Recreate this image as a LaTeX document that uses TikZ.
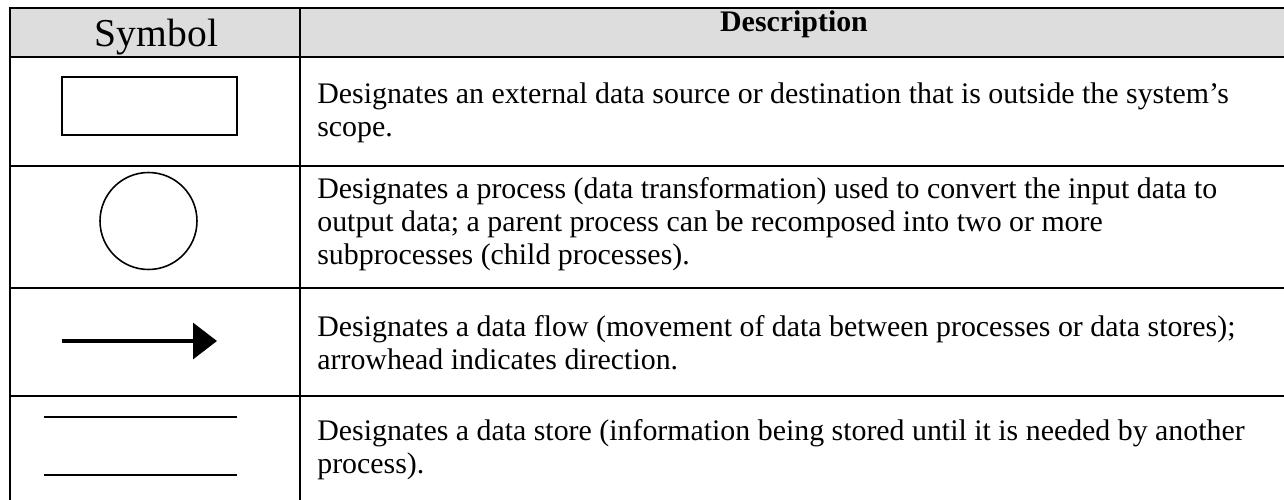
\documentclass[tikz,border=0pt]{standalone}
\usepackage{fontspec}
\setmainfont{Liberation Serif}
\usetikzlibrary{arrows.meta}
\definecolor{headgray}{RGB}{221,221,221}
\begin{document}
\begin{tikzpicture}[x=0.02cm, y=-0.02cm]

\tikzstyle{grid}=[line width=1.7pt]
\tikzstyle{desc}=[anchor=west, inner sep=0pt, align=left, font=\fontsize{17}{18.7}\selectfont]
\tikzstyle{entity}=[rectangle, draw, line width=1.1pt, minimum width=3.5cm, minimum height=1.16cm, inner sep=0pt]
\tikzstyle{process}=[circle, draw, line width=0.9pt, minimum size=1.94cm, inner sep=0pt]
\tikzstyle{flow}=[-{Triangle[length=0.48cm, width=0.72cm]}, line width=1.9pt]
\tikzstyle{store}=[line width=1.1pt]

\useasboundingbox (0,0) rectangle (1284,500);

% header row
\fill[headgray] (10,8) rectangle (1284,57);
\node (symhead) [anchor=base, inner sep=0pt, font=\fontsize{22.5}{26}\selectfont] at (156.5,47) {Symbol};
\node (deschead) [anchor=base, inner sep=0pt, font=\fontsize{17}{20}\selectfont\bfseries] at (794,32) {Description};

% table rules
\draw[grid] (10,500) -- (10,8) -- (1284,8);
\draw[grid] (300,8) -- (300,500);
\draw[grid] (10,57) -- (1284,57);
\draw[grid] (10,166) -- (1284,166);
\draw[grid] (10,288) -- (1284,288);
\draw[grid] (10,396) -- (1284,396);

% symbols
\node (ext) [entity] at (149.5,106) {};
\node (proc) [process] at (148.5,221) {};
\coordinate (flowA) at (62,341);
\coordinate (flowB) at (217,341);
\draw[flow] (flowA) -- (flowB);
\coordinate (storeA) at (44,417);
\coordinate (storeB) at (237,417);
\coordinate (storeC) at (44,475);
\coordinate (storeD) at (237,475);
\draw[store] (storeA) -- (storeB);
\draw[store] (storeC) -- (storeD);

% descriptions
\node (descext) [desc] at (317,112.5) {Designates an external data source or destination that is outside the system’s\\scope.};
\node (descproc) [desc] at (317,224.5) {Designates a process (data transformation) used to convert the input data to\\output data; a parent process can be recomposed into two or more\\subprocesses (child processes).};
\node (descflow) [desc] at (317,342.5) {Designates a data flow (movement of data between processes or data stores);\\arrowhead indicates direction.};
\node (descstore) [desc] at (317,449.5) {Designates a data store (information being stored until it is needed by another\\process).};

\end{tikzpicture}
\end{document}
